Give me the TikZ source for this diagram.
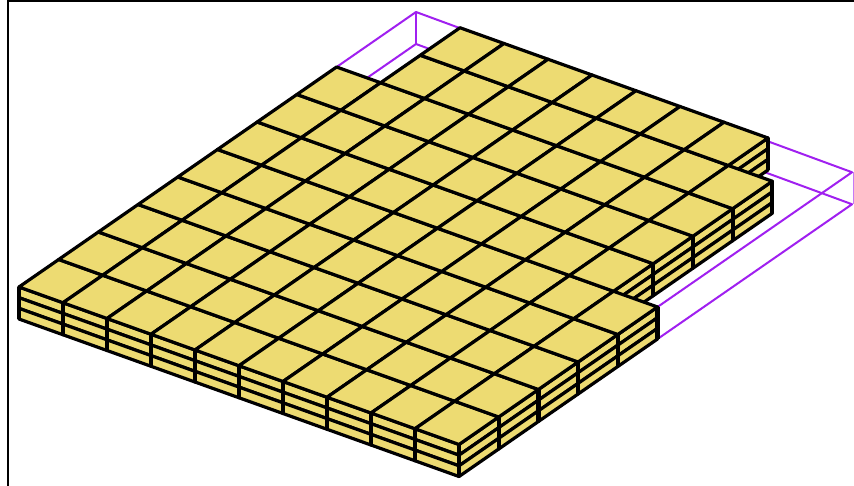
\documentclass[tikz,border=0pt]{standalone}
\usepackage{tikz}
\definecolor{plateyellow}{RGB}{237,219,114}
\definecolor{boxpurple}{RGB}{160,32,240}
\begin{document}
\begin{tikzpicture}[x=1pt,y=1pt,
  cell/.style={draw=black,fill=plateyellow,line width=3.2pt,line join=round},
  seam/.style={draw=black,line width=4.2pt},
  wire/.style={draw=boxpurple,line width=2pt,line join=round}]
\useasboundingbox (0,0) rectangle (854,-486);
\fill[white] (0,0) rectangle (854,-486);
\draw[line width=2.4pt] (8,-486)--(8,-1)--(854,-1);
\begin{scope}[shift={(19,-287)},x={(44pt,-15.75pt)},y={(39.7pt,27.5pt)},z={(0pt,-10.67pt)}]
% box behind the plate
\draw[wire] (0,0,0)--(10,0,0)--(10,9.9,0)--(0,10,0)--cycle;
\draw[wire] (0,0,3)--(10,0,3)--(10,9.9,3)--(0,10,3)--cycle;
\draw[wire] (0,10,0)--(0,10,3);
\draw[wire,line width=1pt,boxpurple!60,xshift=1pt] (10,9.9,0)--(10,9.9,3);
% sides, three layers
\foreach \i/\j in {8/9,9/8,9/7,9/6,9/5,10/4,10/3,10/2,10/1,10/0}
  \foreach \k in {0,1,2}
    \draw[cell] (\i,\j,\k)--(\i,\j+1,\k)--(\i,\j+1,\k+1)--(\i,\j,\k+1)--cycle;
\foreach \i in {0,...,9}
  \foreach \k in {0,1,2}
    \draw[cell] (\i,0,\k)--(\i+1,0,\k)--(\i+1,0,\k+1)--(\i,0,\k+1)--cycle;
% seams between the stacks
\foreach \i/\j in {8/10,9/9,9/8,9/7,9/6,10/5,10/4,10/3,10/2,10/1,10/0,9/0,8/0,7/0,6/0,5/0,4/0,3/0,2/0,1/0,0/0}
  \draw[seam] (\i,\j,0)--(\i,\j,3);
% top cells
\foreach \i/\n in {0/8,1/10,2/10,3/10,4/10,5/10,6/10,7/10,8/9,9/5}
  \foreach \j in {1,...,\n}
    \draw[cell] (\i,\j-1,0)--(\i+1,\j-1,0)--(\i+1,\j,0)--(\i,\j,0)--cycle;
\end{scope}
\end{tikzpicture}
\end{document}
